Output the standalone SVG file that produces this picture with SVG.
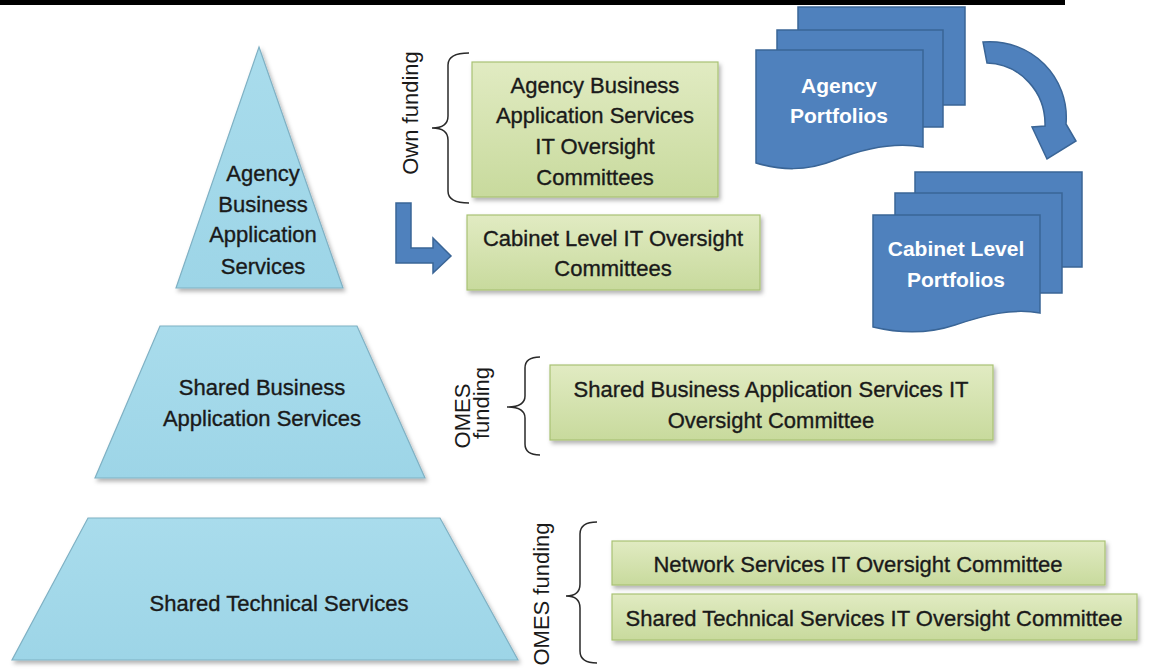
<svg xmlns="http://www.w3.org/2000/svg" width="1150" height="669" viewBox="0 0 1150 669">
<style>
.t{font-family:"Liberation Sans",Arial,sans-serif;font-size:22px;fill:#1a1a1a;stroke:#1a1a1a;stroke-width:0.35;text-anchor:middle}
.w{font-family:"Liberation Sans",Arial,sans-serif;font-size:21px;font-weight:bold;fill:#ffffff;text-anchor:middle}
.f{font-family:"Liberation Sans",Arial,sans-serif;font-size:22px;fill:#1a1a1a;text-anchor:middle}
.pyr{fill:url(#gb);stroke:#7fb1c4;stroke-width:1.2;filter:url(#sh)}
.box{fill:url(#gg);stroke:#a9c274;stroke-width:1.2;filter:url(#sh)}
.doc{fill:#4f81bd;stroke:#3a6596;stroke-width:1.5}
.brace{fill:none;stroke:#2a2a2a;stroke-width:1.5}
.arr{fill:#4f81bd;stroke:#3a6596;stroke-width:1.5}
</style>
<defs>
<linearGradient id="gg" x1="0" y1="0" x2="0" y2="1">
<stop offset="0" stop-color="#e1ebc2"/>
<stop offset="1" stop-color="#c8da9d"/>
</linearGradient>
<linearGradient id="gb" x1="0" y1="0" x2="0" y2="1">
<stop offset="0" stop-color="#a9dcec"/>
<stop offset="1" stop-color="#9dd5e7"/>
</linearGradient>
<filter id="sh" x="-10%" y="-10%" width="120%" height="130%">
<feDropShadow dx="2" dy="3" stdDeviation="2" flood-color="#000" flood-opacity="0.3"/>
</filter>
</defs>
<rect x="0" y="0" width="1065" height="5" fill="#000"/>

<g id="pyr-agency">
<polygon class="pyr" points="259,47 343,288 176,288"/>
<text class="t" x="263" y="181">Agency</text>
<text class="t" x="263" y="212">Business</text>
<text class="t" x="263" y="242">Application</text>
<text class="t" x="263" y="274">Services</text>
</g>
<g id="pyr-shared-business">
<polygon class="pyr" points="160,326 357,326 425,478 95,478"/>
<text class="t" x="262" y="395">Shared Business</text>
<text class="t" x="262" y="426">Application Services</text>
</g>
<g id="pyr-shared-technical">
<polygon class="pyr" points="88,518 440,518 518,660 12,660"/>
<text class="t" x="279" y="611">Shared Technical Services</text>
</g>

<g id="box-agency-committees">
<rect class="box" x="472" y="62" width="246" height="135"/>
<text class="t" x="595" y="93">Agency Business</text>
<text class="t" x="595" y="123">Application Services</text>
<text class="t" x="595" y="154">IT Oversight</text>
<text class="t" x="595" y="185">Committees</text>
</g>
<g id="box-cabinet-committees">
<rect class="box" x="467" y="215" width="293" height="75"/>
<text class="t" x="613" y="246">Cabinet Level IT Oversight</text>
<text class="t" x="613" y="276">Committees</text>
</g>
<g id="box-shared-business-committee">
<rect class="box" x="550" y="365" width="443" height="75"/>
<text class="t" x="771" y="397">Shared Business Application Services IT</text>
<text class="t" x="771" y="428">Oversight Committee</text>
</g>
<g id="box-network-committee">
<rect class="box" x="612" y="541" width="493" height="44"/>
<text class="t" x="858" y="572">Network Services IT Oversight Committee</text>
</g>
<g id="box-shared-technical-committee">
<rect class="box" x="612" y="594" width="525" height="46"/>
<text class="t" x="874" y="626">Shared Technical Services IT Oversight Committee</text>
</g>

<g id="own-funding">
<path class="brace" d="M469,53 Q448,53 448,65 L448,116 Q448,128 432,128 Q448,128 448,140 L448,191 Q448,203 469,203"/>
<text class="f" transform="translate(418,113) rotate(-90)">Own funding</text>
</g>
<g id="omes-funding-1">
<path class="brace" d="M540,357 Q525,357 525,368 L525,396 Q525,407 507,407 Q525,407 525,418 L525,444 Q525,455 540,455"/>
<text class="f" transform="translate(470,416) rotate(-90)">OMES</text>
<text class="f" transform="translate(489,403) rotate(-90)">funding</text>
</g>
<g id="omes-funding-2">
<path class="brace" d="M597,522 Q580,522 580,534 L580,584 Q580,596 566,596 Q580,596 580,608 L580,651 Q580,663 597,663"/>
<text class="f" transform="translate(549,594) rotate(-90)">OMES funding</text>
</g>

<g id="agency-portfolios">
<rect class="doc" x="798" y="7" width="167" height="98"/>
<rect class="doc" x="777" y="30" width="166" height="97"/>
<path class="doc" d="M756,50 H923 V147 C895,142 865,148 835,160 C805,172 780,170 756,163 Z"/>
<text class="w" x="839" y="93">Agency</text>
<text class="w" x="839" y="123">Portfolios</text>
</g>
<g id="cabinet-portfolios">
<rect class="doc" x="915" y="172" width="167" height="95"/>
<rect class="doc" x="895" y="193" width="167" height="100"/>
<path class="doc" d="M873,215 H1040 V313 C1012,308 985,315 955,325 C925,335 898,333 873,327 Z"/>
<text class="w" x="956" y="256">Cabinet Level</text>
<text class="w" x="956" y="287">Portfolios</text>
</g>

<g id="connectors">
<path class="arr" d="M396,203 L411,203 L411,248 L433,248 L433,238 L451,256 L433,273 L433,263 L396,263 Z"/>
<path class="arr" d="M983,42 C1032,38 1070,78 1066,124 L1076,141 L1047,159 L1032,127 L1045,126 C1046,92 1020,64 987,63 Z"/>
</g>
</svg>
